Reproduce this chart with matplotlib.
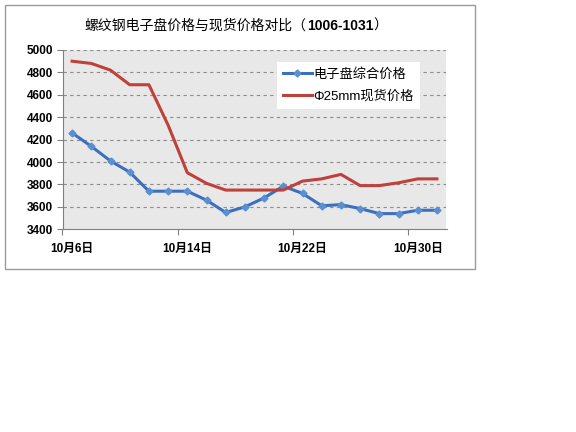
import matplotlib
matplotlib.use('Agg')
import matplotlib.pyplot as plt
from matplotlib.patches import Rectangle

plt.rcParams['font.family'] = ['Liberation Sans', 'Noto Sans CJK SC', 'DejaVu Sans']

# trading days 10/6 - 10/31
dates = [6, 7, 8, 9, 11, 12, 14, 15, 18, 19, 20, 21, 22, 25, 26, 27, 28, 29, 30, 31]
labels = ['10月%d日' % d for d in dates]
ecp_price = [4260, 4140, 4010, 3910, 3740, 3740, 3740, 3660, 3550, 3600,
             3680, 3785, 3720, 3610, 3620, 3585, 3540, 3540, 3570, 3570]
spot_price = [4900, 4880, 4820, 4690, 4690, 4330, 3905, 3810, 3750, 3750,
              3750, 3750, 3830, 3850, 3890, 3790, 3790, 3815, 3850, 3850]
ecp_name = '电子盘综合价格'
spot_name = 'Φ25mm现货价格'


def plot_chart():
    fig = plt.figure(figsize=(5.76, 4.32), dpi=100)
    fig.patches.append(Rectangle((5 / 576, 1 - 268.7 / 432), 470 / 576, 263.7 / 432,
                                 transform=fig.transFigure, fill=False,
                                 edgecolor='#9a9a9a', linewidth=1.0))
    ax = fig.add_axes([62.5 / 576, 1 - 229.3 / 432, 384 / 576, 179.3 / 432])
    ax.set_facecolor('#e8e8e8')

    x = list(range(len(dates)))
    ax.plot(x, ecp_price, color='#3c70bf', linewidth=2.2, marker='D', markersize=3.5,
            markerfacecolor='#5a8fd0', markeredgecolor='#5a8fd0', label=ecp_name, zorder=3)
    ax.plot(x, spot_price, color='#c0403c', linewidth=2.2, label=spot_name, zorder=3)

    ax.set_xlim(-0.5, len(dates) - 0.5)
    ax.set_ylim(3400, 5000)
    ax.set_yticks(range(3400, 5001, 200))
    ax.set_yticklabels([str(v) for v in range(3400, 5001, 200)],
                       fontsize=8.5, fontweight='bold')
    for v in range(3600, 5001, 200):
        ax.axhline(v, color='#8c8c8c', linewidth=0.8, linestyle=(0, (3, 3)), zorder=1)

    ax.set_xticks([i - 0.5 for i in range(0, len(dates), 6)])
    ax.set_xticklabels([])
    ax.set_xticks(range(0, len(dates), 6), minor=True)
    ax.set_xticklabels([labels[i] for i in range(0, len(dates), 6)], minor=True,
                       fontsize=8.5, fontweight='bold')
    ax.tick_params(axis='x', which='major', length=4, color='#808080')
    ax.tick_params(axis='x', which='minor', length=0, pad=10)
    ax.tick_params(axis='y', length=4, color='#808080', pad=3)

    for side in ['top', 'right']:
        ax.spines[side].set_visible(False)
    for side in ['left', 'bottom']:
        ax.spines[side].set_color('#808080')

    leg = ax.legend(loc='upper left', bbox_to_anchor=(276.7 / 576, 1 - 62 / 432),
                    bbox_transform=fig.transFigure, frameon=True, fancybox=False,
                    edgecolor='none', framealpha=1, fontsize=9.5,
                    handlelength=2.2, handletextpad=0.15, borderpad=0.45,
                    labelspacing=0.75, borderaxespad=0)
    leg.get_frame().set_linewidth(0)

    # title: chinese part regular, numbers bold
    fig.canvas.draw()
    r = fig.canvas.get_renderer()
    parts = [('螺纹钢电子盘价格与现货价格对比（', 'normal'), ('1006-1031', 'bold'), ('）', 'normal')]
    texts = [fig.text(0, 0, s, fontsize=10, fontweight=w, va='center') for s, w in parts]
    widths = [t.get_window_extent(r).width for t in texts]
    xpos = 236 - sum(widths) / 2
    for t, w in zip(texts, widths):
        t.set_position((xpos / 576, 1 - 26 / 432))
        xpos += w

    fig.savefig('out.png', dpi=100, facecolor='white')


def main():
    plot_chart()


if __name__ == "__main__":
    main()
